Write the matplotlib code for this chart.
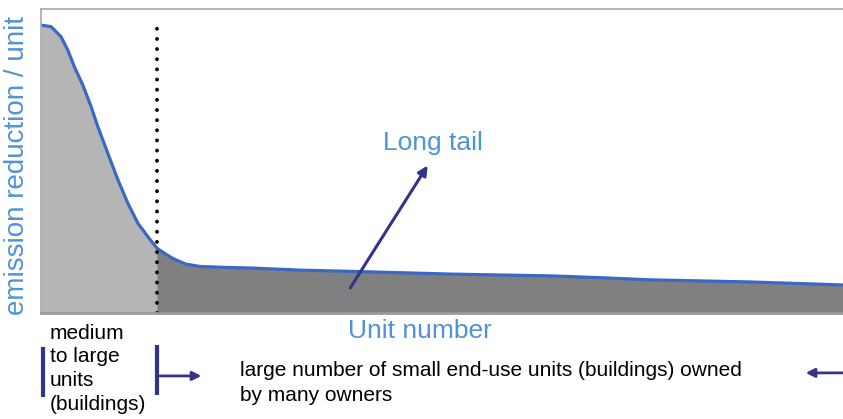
import numpy as np
import matplotlib
matplotlib.use('Agg')
import matplotlib.pyplot as plt

plt.rcParams['font.family'] = ['Liberation Sans', 'DejaVu Sans']

# curve (unit number 0..100, emission reduction 0..100)
unit_x = [0, 1.25, 2.49, 3.33, 4.15, 5.2, 6.23, 7.07, 8.32, 9.57, 10.81, 12.06, 13.3,
          14.43, 15.5, 16.5, 18.0, 19.8, 22.9, 26.1, 32.3, 38.5, 51.0, 63.5, 69.7, 75.9, 88.4, 100]
reduction = [94.7, 94.2, 90.9, 86.5, 81.0, 75.0, 67.9, 61.3, 52.5, 43.8, 36.1, 29.5, 25.1,
             21.3, 19.4, 17.8, 16.1, 15.3, 15.0, 14.8, 14.1, 13.7, 12.8, 12.2, 11.6, 10.9, 10.2, 9.2]
divider = 14.43

blue_txt = '#4f93d8'
navy = '#33338a'

fig = plt.figure(figsize=(8.43, 4.19), dpi=100)
ax = fig.add_axes([41/843, 106/419, 1 - 41/843 + 0.002, 304/419])

x = np.array(unit_x)
y = np.array(reduction)
ax.fill_between(x, 0, y, where=x <= divider, color='#b5b5b5', interpolate=True, lw=0)
ax.fill_between(x, 0, y, where=x >= divider, color='#808080', interpolate=True, lw=0)
ax.plot(x, y, color='#3a68c4', lw=2.3, solid_capstyle='round', solid_joinstyle='round')
ax.plot([divider, divider], [0, 95.5], color='black', lw=2.8, ls=(0, (0.01, 2.6)),
        dash_capstyle='round')

ax.set_xlim(0, 100)
ax.set_ylim(0, 100)
ax.set_xticks([])
ax.set_yticks([])
for s in ['top', 'left']:
    ax.spines[s].set_color('#a8a8a8')
    ax.spines[s].set_linewidth(1.2)
ax.spines['bottom'].set_color('#9a9a9a')
ax.spines['bottom'].set_linewidth(2)
ax.spines['right'].set_visible(False)

# long tail arrow
ax.annotate('', xy=(48.3, 49.3), xytext=(38.3, 7.5),
            arrowprops=dict(arrowstyle='-|>', color=navy, lw=2.2, mutation_scale=14))
ax.text(48.8, 53.5, 'Long tail', color=blue_txt, fontsize=19, ha='center', va='baseline')

fig.text(17/843, 1 - 165/419, 'emission reduction / unit', rotation=90, color=blue_txt,
         fontsize=20, ha='center', va='center')
fig.text(420/843, 1 - 338/419, 'Unit number', color=blue_txt, fontsize=19,
         ha='center', va='baseline')

fig.text(50/843, 1 - 324/419, 'medium\nto large\nunits\n(buildings)', fontsize=15,
         ha='left', va='top', linespacing=1.3)
fig.text(240/843, 1 - 361/419, 'large number of small end-use units (buildings) owned\nby many owners',
         fontsize=15, ha='left', va='top', linespacing=1.38)

# brackets and arrows below the axis
ax.plot([0.2, 0.2], [-11.2, -27.6], color=navy, lw=3, clip_on=False, solid_capstyle='butt')
ax.plot([divider, divider], [-10.5, -26.9], color=navy, lw=3, clip_on=False, solid_capstyle='butt')
ax.annotate('', xy=(20.3, -20.7), xytext=(divider, -20.7), annotation_clip=False,
            arrowprops=dict(arrowstyle='-|>', color=navy, lw=2, mutation_scale=13))
ax.annotate('', xy=(94.8, -19.7), xytext=(100.5, -19.7), annotation_clip=False,
            arrowprops=dict(arrowstyle='-|>', color=navy, lw=2, mutation_scale=13))

fig.savefig('out.png', dpi=100)
